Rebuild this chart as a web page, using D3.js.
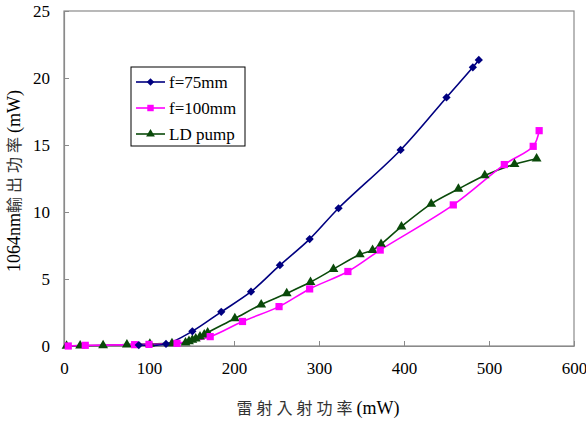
<!DOCTYPE html>
<html>
<head>
<meta charset="utf-8">
<script src="https://cdn.jsdelivr.net/npm/d3@7"></script>
<style>
  body { margin: 0; background: #fff; }
</style>
</head>
<body>
<div id="chart"></div>
<script>
// data
var f75x = [88, 120, 151, 185, 220, 254, 289, 323, 396, 450, 481, 488];
var f75y = [0.07, 0.15, 1.1, 2.55, 4.05, 6.03, 7.98, 10.28, 14.63, 18.55, 20.8, 21.35];

var f100x = [5, 25, 83, 100, 133, 172, 210, 253, 289, 334, 372, 458, 518, 552, 559];
var f100y = [0.0, 0.05, 0.1, 0.12, 0.2, 0.7, 1.83, 2.94, 4.26, 5.56, 7.16, 10.53, 13.54, 14.9, 16.07];

var ldx = [3, 19, 46, 74, 101, 127, 143, 147, 151, 155, 160, 165, 169, 201, 232, 262, 290, 317, 348, 363, 373, 397, 432, 464, 495, 530, 556];
var ldy = [0, 0.02, 0.05, 0.1, 0.15, 0.2, 0.25, 0.35, 0.45, 0.55, 0.7, 0.85, 1.0, 2.05, 3.09, 3.93, 4.77, 5.74, 6.83, 7.15, 7.6, 8.91, 10.61, 11.72, 12.73, 13.57, 13.98];

var xTicks = [0, 100, 200, 300, 400, 500, 600];
var yTicks = [0, 5, 10, 15, 20, 25];
var seriesNames = ["f=75mm", "f=100mm", "LD pump"];

var SERIF = "Liberation Serif";
var CJK = "Noto Sans CJK TC";

var W = 586, H = 426;
var margin = {top: 11, right: 12, bottom: 80, left: 64},
    width = W - margin.left - margin.right,
    height = H - margin.top - margin.bottom;

var svg = d3.select("#chart").append("svg")
    .attr("width", W).attr("height", H);
var g = svg.append("g")
    .attr("transform", "translate(" + margin.left + "," + margin.top + ")");

var x = d3.scaleLinear().domain([0, 600]).range([0, width]);
var y = d3.scaleLinear().domain([0, 25]).range([height, 0]);

// frame
g.append("rect")
  .attr("width", width).attr("height", height)
  .attr("fill", "none").attr("stroke", "#8a8a8a").attr("stroke-width", 1.2);

// axes, ticks pointing inward
var xAxis = g.append("g")
  .attr("transform", "translate(0," + height + ")")
  .call(d3.axisBottom(x).tickValues(xTicks).tickSizeInner(-5).tickSizeOuter(0).tickPadding(16));
var yAxis = g.append("g")
  .call(d3.axisLeft(y).tickValues(yTicks).tickSizeInner(-5).tickSizeOuter(0).tickPadding(14));
[xAxis, yAxis].forEach(function(a){
  a.attr("font-size", 17);
  a.select(".domain").attr("stroke", "#8a8a8a").attr("stroke-width", 1.2);
  a.selectAll(".tick line").attr("stroke", "#8a8a8a");
  a.selectAll("text").attr("fill", "#000").style("font-family", SERIF);
});

// axis titles
var xt = svg.append("text")
  .attr("x", 318).attr("y", 414)
  .attr("text-anchor", "middle").attr("font-size", 18).style("font-family", SERIF);
xt.append("tspan").style("font-family", CJK).attr("font-size", 16).attr("letter-spacing", 4)
  .attr("fill", "#333").text("雷射入射功率");
xt.append("tspan").text("(mW)");

var yt = svg.append("text")
  .attr("transform", "translate(20," + 181 + ") rotate(-90)")
  .attr("text-anchor", "middle").attr("font-size", 18).style("font-family", SERIF);
yt.append("tspan").text("1064nm");
yt.append("tspan").style("font-family", CJK).attr("font-size", 16).attr("letter-spacing", 4)
  .attr("fill", "#333").text("輸出功率");
yt.append("tspan").text("(mW)");

function zip(xs, ys){ return xs.map(function(v, i){ return [v, ys[i]]; }); }

var diamond = {
  draw: function(ctx, size){
    var r = Math.sqrt(size / 2);
    ctx.moveTo(0, -r); ctx.lineTo(r, 0); ctx.lineTo(0, r); ctx.lineTo(-r, 0); ctx.closePath();
  }
};

var series = [
  {name: seriesNames[0], data: zip(f75x, f75y), color: "#000080", sym: diamond, size: 34},
  {name: seriesNames[1], data: zip(f100x, f100y), color: "#ff00ff", sym: d3.symbolSquare, size: 52},
  {name: seriesNames[2], data: zip(ldx, ldy), color: "#0a4a0a", sym: d3.symbolTriangle, size: 42}
];

var line = d3.line()
  .x(function(d){ return x(d[0]); })
  .y(function(d){ return y(d[1]); })
  .curve(d3.curveCatmullRom.alpha(0.5));

series.slice().reverse().forEach(function(s){
  g.append("path").datum(s.data)
    .attr("d", line)
    .attr("fill", "none").attr("stroke", s.color).attr("stroke-width", 1.6);
});
series.slice().reverse().forEach(function(s){
  g.selectAll(null).data(s.data).enter().append("path")
    .attr("transform", function(d){ return "translate(" + x(d[0]) + "," + y(d[1]) + ")"; })
    .attr("d", d3.symbol().type(s.sym).size(s.size))
    .attr("fill", s.color);
});

// legend
var lg = svg.append("g").attr("transform", "translate(131,67)");
lg.append("rect").attr("width", 114).attr("height", 79)
  .attr("fill", "#fff").attr("stroke", "#000").attr("stroke-width", 1);
series.forEach(function(s, i){
  var ly = 15 + i * 26;
  lg.append("line").attr("x1", 5).attr("x2", 34).attr("y1", ly).attr("y2", ly)
    .attr("stroke", s.color).attr("stroke-width", 1.6);
  lg.append("path").attr("transform", "translate(19.5," + ly + ")")
    .attr("d", d3.symbol().type(s.sym).size(s.size * 0.8)).attr("fill", s.color);
  lg.append("text").attr("x", 38).attr("y", ly + 6)
    .attr("font-size", 17).style("font-family", SERIF).text(s.name);
});
</script>
</body>
</html>
